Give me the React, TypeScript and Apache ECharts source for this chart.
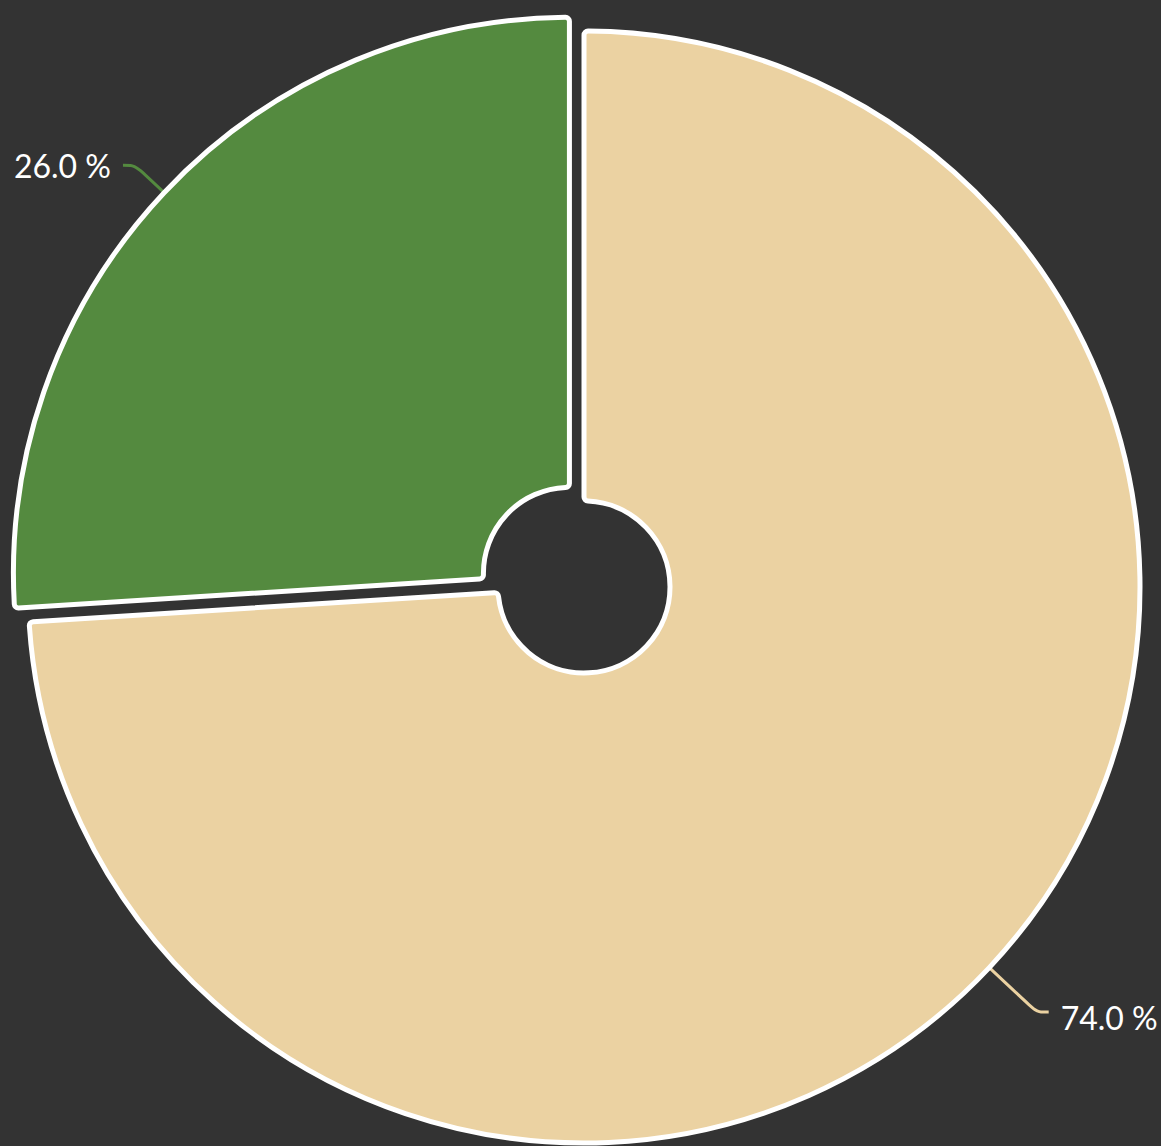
import React, { useEffect, useRef } from "react";
import * as echarts from "echarts";

const categories = ["A", "B"];
const values = [74.0, 26.0];
const colors = ["#EBD2A2", "#548A3F"];
const lineLengths = [65, 40];
const selectedIndex = 1;

export default function App() {
  const ref = useRef<HTMLDivElement>(null);
  useEffect(() => {
    document.body.style.margin = "0";
    document.body.style.background = "#333333";
    const chart = echarts.init(ref.current!, null, { renderer: "svg" });
    chart.setOption({
      animation: false,
      backgroundColor: "#333333",
      series: [
        {
          type: "pie",
          center: [584, 587],
          radius: [86, 556],
          startAngle: 90,
          clockwise: true,
          selectedMode: "single",
          selectedOffset: 20,
          avoidLabelOverlap: false,
          itemStyle: { borderColor: "#ffffff", borderWidth: 5, borderRadius: 4 },
          label: {
            show: true,
            color: "#ffffff",
            fontFamily: "Lato",
            fontSize: 32,
            offset: [0, 5],
            formatter: (p: any) => p.value.toFixed(1) + " %",
            distanceToLabelLine: 12,
          },
          labelLine: { show: true, length: 50, length2: 12, smooth: true, lineStyle: { width: 3 } },
          emphasis: { disabled: true },
          data: categories.map((c, i) => ({
            name: c,
            value: values[i],
            selected: i === selectedIndex,
            itemStyle: { color: colors[i] },
            labelLine: { length: lineLengths[i], length2: 12, lineStyle: { color: colors[i], width: 3 } },
          })),
        },
      ],
    });
    return () => chart.dispose();
  }, []);
  return <div ref={ref} style={{ width: 1161, height: 1146 }} />;
}
